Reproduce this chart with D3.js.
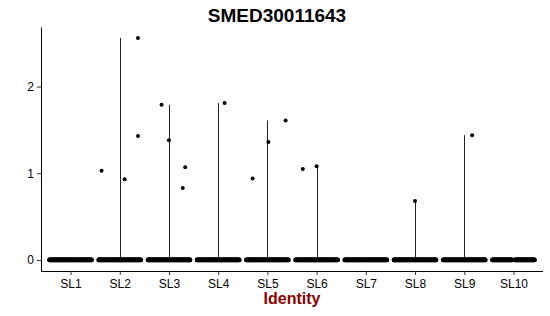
<!DOCTYPE html>
<html>
<head>
<meta charset="utf-8">
<script src="https://cdn.jsdelivr.net/npm/d3@7"></script>
<style>
  body { margin: 0; background: #fff; }
  text { font-family: "Liberation Sans", Arial, sans-serif; }
</style>
</head>
<body>
<div id="chart"></div>
<script>
// Violin plot of one gene across clusters (mostly zero expression)

const clusters = ['SL1', 'SL2', 'SL3', 'SL4', 'SL5', 'SL6', 'SL7', 'SL8', 'SL9', 'SL10'];
// top of each violin (max expression in cluster)
const violinMax = [0, 2.56, 1.79, 1.81, 1.61, 1.08, 0, 0.68, 1.44, 0];
// non-zero cells: cluster, jitter offset (fraction of band), value
const pointCluster = ['SL2', 'SL2', 'SL2', 'SL2', 'SL3', 'SL3', 'SL3', 'SL3', 'SL4', 'SL5', 'SL5', 'SL5', 'SL6', 'SL6', 'SL8', 'SL9'];
const pointJitter = [-0.37, 0.10, 0.37, 0.37, -0.15, 0.0, 0.33, 0.28, 0.13, -0.30, 0.02, 0.37, -0.28, 0.0, 0.0, 0.16];
const pointValue = [1.03, 0.93, 2.56, 1.43, 1.79, 1.38, 1.07, 0.83, 1.81, 0.94, 1.36, 1.61, 1.05, 1.08, 0.68, 1.44];
// zero-valued cells spread over these jitter ranges
const zeroBands = [
  [[-0.43, 0.43]], [[-0.43, 0.43]], [[-0.43, 0.43]], [[-0.43, 0.43]], [[-0.43, 0.43]],
  [[-0.43, 0.43]], [[-0.43, 0.43]], [[-0.43, 0.43]], [[-0.43, 0.43]], [[-0.43, -0.03], [0.03, 0.43]]
];
const yTicks = [0, 1, 2];

const svgWidth = 550, svgHeight = 316;
const margin = { top: 27, right: 7, bottom: 45, left: 41 };
const width = svgWidth - margin.left - margin.right;
const height = svgHeight - margin.top - margin.bottom;

const svg = d3.select('#chart').append('svg')
  .attr('width', svgWidth)
  .attr('height', svgHeight);

const chartGroup = svg.append('g')
  .attr('transform', `translate(${margin.left}, ${margin.top})`);

// ggplot style discrete expansion of 0.6 on each side
const step = width / (clusters.length - 1 + 1.2);
const xScale = d3.scalePoint()
  .domain(clusters)
  .range([0.6 * step, width - 0.6 * step]);

const yMax = d3.max(pointValue);
const yScale = d3.scaleLinear()
  .domain([-0.05 * yMax, yMax * 1.05])
  .range([height, 0]);

// violins (collapsed to thin lines)
chartGroup.selectAll('.violin')
  .data(clusters.filter((c, i) => violinMax[i] > 0))
  .enter()
  .append('line')
  .attr('class', 'violin')
  .attr('x1', d => Math.round(xScale(d)) + 0.5)
  .attr('x2', d => Math.round(xScale(d)) + 0.5)
  .attr('y1', yScale(0))
  .attr('y2', d => yScale(violinMax[clusters.indexOf(d)]))
  .attr('stroke', '#222')
  .attr('stroke-width', 1);

// zero band points
const zeroPts = [];
clusters.forEach((c, i) => {
  zeroBands[i].forEach(b => {
    for (let t = b[0]; t <= b[1] + 1e-9; t += 0.01) {
      zeroPts.push({ c: c, j: t });
    }
  });
});

chartGroup.selectAll('.zero')
  .data(zeroPts)
  .enter()
  .append('circle')
  .attr('class', 'zero')
  .attr('cx', d => xScale(d.c) + d.j * step)
  .attr('cy', yScale(0))
  .attr('r', 2.3)
  .attr('fill', '#000');

// non-zero points
chartGroup.selectAll('.pt')
  .data(pointValue)
  .enter()
  .append('circle')
  .attr('class', 'pt')
  .attr('cx', (d, i) => xScale(pointCluster[i]) + pointJitter[i] * step)
  .attr('cy', d => yScale(d))
  .attr('r', 2)
  .attr('fill', '#000');

// axes
const xAxis = chartGroup.append('g')
  .attr('transform', `translate(0, ${height})`)
  .call(d3.axisBottom(xScale).tickSize(4).tickPadding(4));

const yAxis = chartGroup.append('g')
  .call(d3.axisLeft(yScale).tickValues(yTicks).tickFormat(d3.format('d')).tickSize(4).tickPadding(3));

[xAxis, yAxis].forEach(a => {
  a.select('.domain').attr('stroke', '#000').attr('stroke-width', 1);
  a.selectAll('.tick line').attr('stroke', '#333');
  a.selectAll('.tick text')
    .attr('font-family', '"Liberation Sans", Arial, sans-serif')
    .attr('font-size', '12px')
    .attr('fill', '#000');
});
yAxis.select('.domain').attr('d', `M0.5,${height}V0.5`);
xAxis.select('.domain').attr('d', `M0,0.5H${width}`);

// title (centred on the whole plot, not the panel)
svg.append('text')
  .attr('x', 277)
  .attr('y', 22)
  .attr('text-anchor', 'middle')
  .attr('font-size', '19px')
  .attr('font-weight', 'bold')
  .attr('fill', '#000')
  .text('SMED30011643');

// x label
svg.append('text')
  .attr('x', margin.left + width / 2)
  .attr('y', 304)
  .attr('text-anchor', 'middle')
  .attr('font-size', '16px')
  .attr('font-weight', 'bold')
  .attr('fill', '#8B0000')
  .text('Identity');
</script>
</body>
</html>
